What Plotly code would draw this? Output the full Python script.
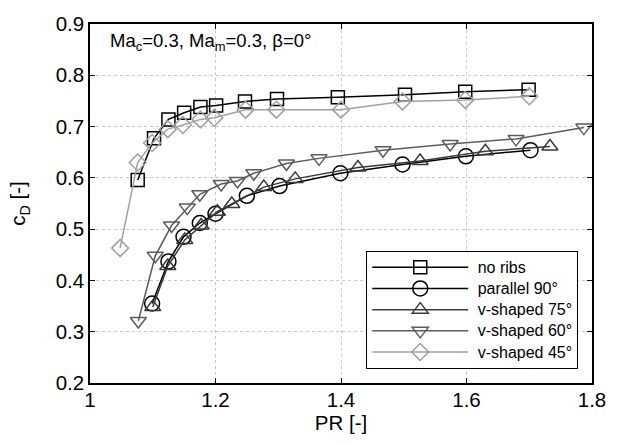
import plotly.graph_objects as go

# ---- data ----
pr_noribs = [1.076, 1.102, 1.125, 1.150, 1.176, 1.201, 1.247, 1.298, 1.395, 1.502, 1.598, 1.699]
cd_noribs = [0.596, 0.677, 0.714, 0.727, 0.738, 0.741, 0.749, 0.754, 0.757, 0.762, 0.768, 0.772]

pr_par90 = [1.099, 1.125, 1.149, 1.175, 1.200, 1.250, 1.302, 1.399, 1.498, 1.599, 1.702]
cd_par90 = [0.355, 0.437, 0.485, 0.512, 0.530, 0.565, 0.584, 0.609, 0.626, 0.642, 0.654]

pr_v75 = [1.100, 1.124, 1.151, 1.177, 1.203, 1.226, 1.277, 1.327, 1.427, 1.526, 1.630, 1.733]
cd_v75 = [0.348, 0.428, 0.479, 0.507, 0.534, 0.549, 0.582, 0.598, 0.620, 0.633, 0.652, 0.661]

pr_v60 = [1.077, 1.104, 1.130, 1.155, 1.175, 1.209, 1.235, 1.261, 1.313, 1.365, 1.467, 1.574, 1.679, 1.787]
cd_v60 = [0.321, 0.448, 0.507, 0.542, 0.568, 0.588, 0.594, 0.609, 0.628, 0.638, 0.654, 0.666, 0.676, 0.698]

pr_v45 = [1.048, 1.076, 1.099, 1.124, 1.148, 1.176, 1.198, 1.248, 1.297, 1.400, 1.498, 1.598, 1.700]
cd_v45 = [0.463, 0.630, 0.668, 0.695, 0.703, 0.714, 0.717, 0.733, 0.733, 0.733, 0.749, 0.752, 0.759]

series_names = ["no ribs", "parallel 90°", "v-shaped 75°", "v-shaped 60°", "v-shaped 45°"]

series = [
    (series_names[0], pr_noribs, cd_noribs, "square-open", 13, "#000000"),
    (series_names[1], pr_par90, cd_par90, "circle-open", 15, "#000000"),
    (series_names[2], pr_v75, cd_v75, "triangle-up-open", 14, "#3a3a3a"),
    (series_names[3], pr_v60, cd_v60, "triangle-down-open", 14, "#5c5c5c"),
    (series_names[4], pr_v45, cd_v45, "diamond-open", 13, "#a0a0a0"),
]

fig = go.Figure()
for name, xs, ys, sym, sz, col in series:
    fig.add_trace(go.Scatter(
        x=xs, y=ys,
        name='<span style="font-size:16px">\u00a0' + name + '</span>',
        mode="lines+markers",
        line=dict(color=col, width=1.5),
        marker=dict(symbol=sym, size=sz, color=col, line=dict(width=1.5, color=col)),
    ))

fig.add_annotation(
    x=0.036, y=0.99, xref="paper", yref="paper", xanchor="left", yanchor="top",
    text="Ma<sub>c</sub>=0.3, Ma<sub>m</sub>=0.3, β=0°", showarrow=False,
    font=dict(size=18.5, color="black"),
)

axis_common = dict(
    showline=True, linecolor="black", linewidth=1.5, mirror="allticks",
    ticks="inside", ticklen=5, tickcolor="black", tickwidth=1,
    showgrid=True, gridcolor="#c8c8c8", griddash="dot", gridwidth=1,
    zeroline=False, tickfont=dict(size=20.5, color="black"),
)

fig.update_layout(
    width=618, height=445,
    margin=dict(l=90, r=17, t=16, b=62),
    paper_bgcolor="white", plot_bgcolor="white",
    font=dict(family="Liberation Sans, Arial, sans-serif", color="black"),
    xaxis=dict(range=[1, 1.8], dtick=0.2, tickformat="~g", ticklabelstandoff=-2,
               title=dict(text="PR [-]", font=dict(size=20.5), standoff=4), **axis_common),
    yaxis=dict(range=[0.2, 0.9], dtick=0.1, tickformat=".1f",
               title=dict(text="c<sub>D</sub> [-]", font=dict(size=20.5), standoff=24), **axis_common),
    legend=dict(
        x=0.9726, y=0.04, xanchor="right", yanchor="bottom",
        bgcolor="white", bordercolor="black", borderwidth=1,
        font=dict(size=14, color="black"), itemwidth=96, tracegroupgap=0,
    ),
    showlegend=True,
)

fig.write_html("out.html")
